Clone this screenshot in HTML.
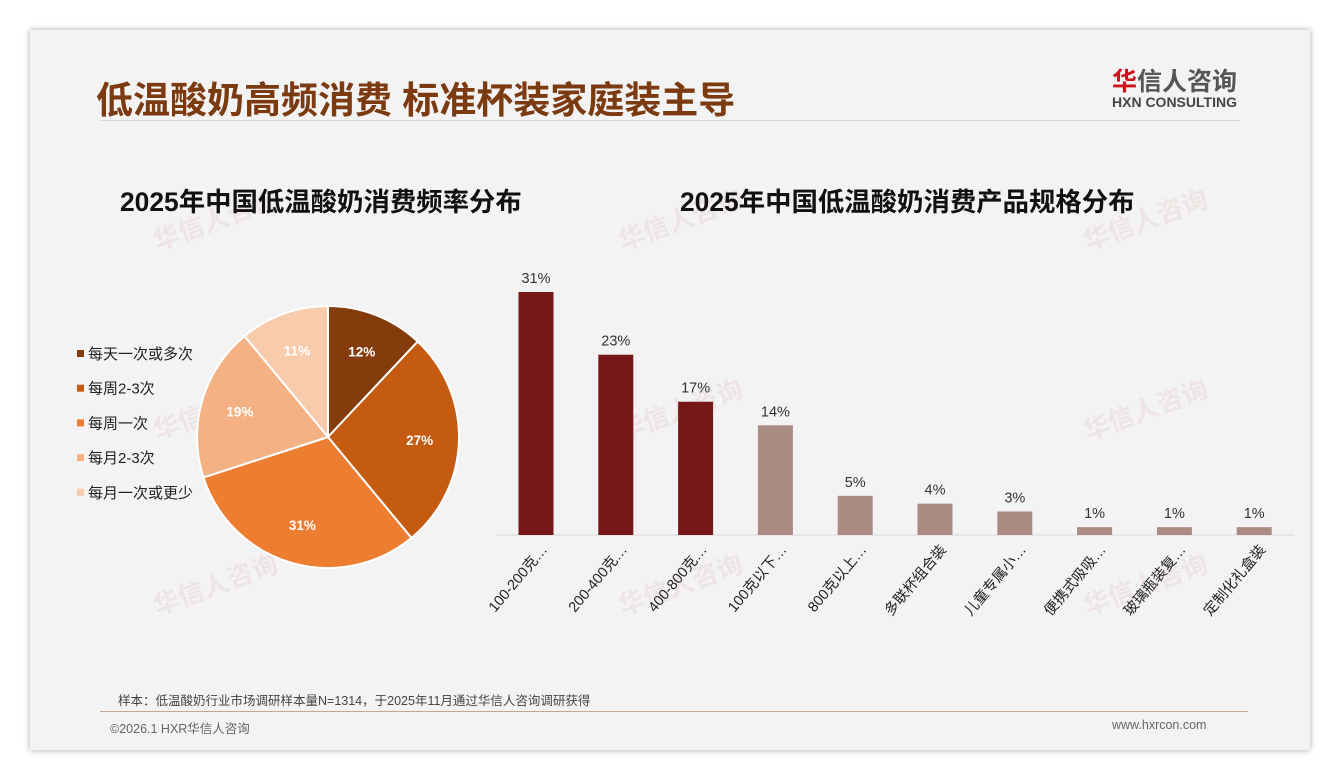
<!DOCTYPE html>
<html><head><meta charset="utf-8">
<style>
body{margin:0;width:1340px;height:780px;background:#fff;font-family:"Liberation Sans","Noto Sans CJK SC",sans-serif;overflow:hidden;position:relative}
.card{position:absolute;left:30px;top:30px;width:1280px;height:720px;background:#f3f3f3;box-shadow:0 0 6px rgba(0,0,0,.35)}
.abs{position:absolute;white-space:nowrap}
.wm{position:absolute;color:rgba(200,120,120,.12);font-weight:bold;font-size:26px;transform:rotate(-20deg)}
</style></head><body>
<div class="card"></div>
<div class="abs" style="left:96px;top:70px;font-size:37px;font-weight:bold;color:#7b3a10;">低温酸奶高频消费 标准杯装家庭装主导</div>
<div class="abs" style="left:1112px;top:62px;font-size:25px;font-weight:bold;color:#555;"><span style="color:#d0121b">华</span>信人咨询</div>
<div class="abs" style="left:1112px;top:94px;font-size:14px;font-weight:bold;color:#444;">HXN CONSULTING</div>
<div class="abs" style="left:100px;top:120px;width:1140px;height:1px;background:#d8d8d8"></div>
<div class="wm" style="left:150px;top:200px">华信人咨询</div>
<div class="wm" style="left:615px;top:200px">华信人咨询</div>
<div class="wm" style="left:1080px;top:200px">华信人咨询</div>
<div class="wm" style="left:150px;top:390px">华信人咨询</div>
<div class="wm" style="left:615px;top:390px">华信人咨询</div>
<div class="wm" style="left:1080px;top:390px">华信人咨询</div>
<div class="wm" style="left:150px;top:565px">华信人咨询</div>
<div class="wm" style="left:615px;top:565px">华信人咨询</div>
<div class="wm" style="left:1080px;top:565px">华信人咨询</div>
<div class="abs" style="left:120px;top:180px;font-size:26.4px;font-weight:bold;color:#111">2025年中国低温酸奶消费频率分布</div>
<div class="abs" style="left:680px;top:180px;font-size:26.4px;font-weight:bold;color:#111">2025年中国低温酸奶消费产品规格分布</div>
<svg id="chart" width="1340" height="780" style="position:absolute;left:0;top:0"></svg>
<div class="abs" style="left:118px;top:690px;font-size:12.5px;color:#444">样本：低温酸奶行业市场调研样本量N=1314，于2025年11月通过华信人咨询调研获得</div>
<div class="abs" style="left:100px;top:711px;width:1148px;height:1px;background:#c9a58f"></div>
<div class="abs" style="left:110px;top:718px;font-size:12.5px;color:#666">©2026.1 HXR华信人咨询</div>
<div class="abs" style="left:1112px;top:718px;font-size:12.5px;color:#666">www.hxrcon.com</div>
<script>
const pieLabels=["每天一次或多次","每周2-3次","每周一次","每月2-3次","每月一次或更少"];
const pieValues=[12,27,31,19,11];
const pieColors=["#843c0c","#c55a11","#ed7d31","#f4b183","#f8cbad"];
const barCats=["100-200克…","200-400克…","400-800克…","100克以下…","800克以上…","多联杯组合装","儿童专属小…","便携式吸吸…","玻璃瓶装复…","定制化礼盒装"];
const barValues=[31,23,17,14,5,4,3,1,1,1];
const NS="http://www.w3.org/2000/svg";
const svg=document.getElementById('chart');
function mk(t,a){const e=document.createElementNS(NS,t);for(const k in a)e.setAttribute(k,a[k]);svg.appendChild(e);return e;}
const cx=328,cy=437,R=131;
const tot=pieValues.reduce((a,b)=>a+b,0);
let ang=0;
pieValues.forEach((v,i)=>{
  const a0=ang,a1=ang+v/tot*2*Math.PI;ang=a1;
  const x0=cx+R*Math.sin(a0),y0=cy-R*Math.cos(a0),x1=cx+R*Math.sin(a1),y1=cy-R*Math.cos(a1);
  const p=mk('path',{d:`M${cx},${cy}L${x0},${y0}A${R},${R} 0 ${a1-a0>Math.PI?1:0} 1 ${x1},${y1}Z`,fill:pieColors[i],stroke:'#fff','stroke-width':2});
  
  
  const m=(a0+a1)/2,r2=R*0.7;
  const t=mk('text',{x:cx+r2*Math.sin(m),y:cy-r2*Math.cos(m)+5,'text-anchor':'middle','font-size':13.5,'font-weight':'bold',fill:'#fff'});
  t.textContent=v+'%';
  
  
  const ly=354+i*34.7;
  const sq=mk('rect',{x:77,y:ly-4,width:7,height:7,fill:pieColors[i]});
  
  
  const lt=mk('text',{x:88,y:ly+5,'font-size':15,fill:'#222'});
  lt.textContent=pieLabels[i];
  
  
});
const base=535,scale=243/31,x0b=536,step=79.8,bw=35;
const ax=mk('line',{x1:497,x2:1294,y1:base,y2:base,stroke:'#d9d9d9','stroke-width':1});


barCats.forEach((c,i)=>{
  const xc=x0b+i*step,h=barValues[i]*scale;
  const r=mk('rect',{x:xc-bw/2,y:base-h,width:bw,height:h,fill:i<3?'#761818':'#ab8b82'});
  
  
  const t=mk('text',{x:xc,y:base-h-9,'text-anchor':'middle','font-size':14.5,fill:'#333'});
  t.textContent=barValues[i]+'%';
  
  
  const l=mk('text',{x:xc+12,y:base+15,'text-anchor':'end','font-size':14.5,fill:'#222',transform:`rotate(-50 ${xc+12} ${base+15})`});
  l.textContent=c;
  
  
});
</script>
</body></html>
